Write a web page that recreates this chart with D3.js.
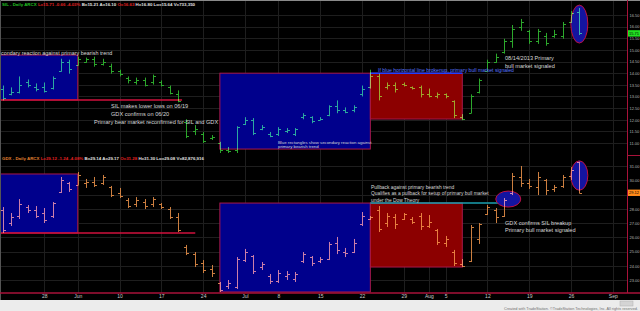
<!DOCTYPE html>
<html>
<head>
<meta charset="utf-8">
<script src="https://cdnjs.cloudflare.com/ajax/libs/d3/7.8.5/d3.min.js"></script>
<style>
body { margin: 0; background: #000; }
svg { display: block; font-family: "Liberation Sans", Arial, sans-serif; }
</style>
</head>
<body>
<div id="chart"></div>
<script>
var svgWidth = 640;
var svgHeight = 311;

// trading days shown (May 20 - Aug 27, 2013)
var dates = ["2013-05-20","2013-05-21","2013-05-22","2013-05-23","2013-05-24","2013-05-28","2013-05-29","2013-05-30","2013-05-31",
  "2013-06-03","2013-06-04","2013-06-05","2013-06-06","2013-06-07","2013-06-10","2013-06-11","2013-06-12","2013-06-13","2013-06-14",
  "2013-06-17","2013-06-18","2013-06-19","2013-06-20","2013-06-21","2013-06-24","2013-06-25","2013-06-26","2013-06-27","2013-06-28",
  "2013-07-01","2013-07-02","2013-07-03","2013-07-05","2013-07-08","2013-07-09","2013-07-10","2013-07-11","2013-07-12",
  "2013-07-15","2013-07-16","2013-07-17","2013-07-18","2013-07-19","2013-07-22","2013-07-23","2013-07-24","2013-07-25","2013-07-26",
  "2013-07-29","2013-07-30","2013-07-31","2013-08-01","2013-08-02","2013-08-05","2013-08-06","2013-08-07","2013-08-08","2013-08-09",
  "2013-08-12","2013-08-13","2013-08-14","2013-08-15","2013-08-16","2013-08-19","2013-08-20","2013-08-21","2013-08-22","2013-08-23",
  "2013-08-26","2013-08-27"];
var futureDates = ["2013-08-28","2013-08-29","2013-08-30","2013-09-03","2013-09-04"];

var silOpen  = [13.30,13.10,13.20,13.60,13.40,13.40,13.35,14.10,14.50,14.35,14.50,14.60,14.40,14.30,14.10,13.80,13.60,13.70,13.60,13.60,
  13.40,13.10,11.90,11.50,11.40,11.20,11.00,10.70,10.70,11.80,12.00,11.60,11.40,11.40,11.50,11.40,12.10,12.10,12.00,12.20,
  12.60,12.40,12.40,13.10,13.40,13.90,13.40,13.50,13.55,13.40,13.40,13.10,13.00,13.10,12.80,12.10,12.30,13.20,14.10,14.50,
  14.90,15.40,16.00,15.80,15.40,15.60,15.60,15.60,16.20,16.63];
var silHigh  = [13.47,13.39,13.86,13.73,13.56,13.60,13.86,14.62,14.58,14.71,14.67,14.71,14.62,14.41,14.15,13.86,13.81,13.81,13.94,13.69,
  13.47,13.26,12.02,11.77,11.47,11.34,11.05,10.83,11.72,12.11,12.07,11.77,11.47,11.68,11.64,11.64,12.28,12.15,12.11,12.62,
  12.83,12.53,12.62,13.47,14.15,13.98,13.60,13.60,13.60,13.43,13.47,13.34,13.17,13.13,12.83,12.24,13.09,13.77,14.58,14.84,
  15.48,16.07,16.33,15.86,15.90,15.73,15.86,16.20,16.67,16.80];
var silLow   = [12.83,13.05,13.13,13.39,13.22,13.17,13.30,14.07,13.98,14.33,14.45,14.28,14.33,13.98,13.86,13.56,13.51,13.43,13.51,13.43,
  13.09,12.75,11.21,11.34,11.00,11.13,10.57,10.57,10.57,11.77,11.34,11.55,11.25,11.30,11.43,11.30,12.02,11.85,11.98,12.15,
  12.28,12.28,12.32,13.00,13.34,12.83,13.30,13.17,13.43,13.30,12.96,12.96,12.92,12.92,12.07,11.98,12.28,13.13,14.07,14.45,
  14.84,15.09,15.82,15.26,15.26,15.18,15.52,15.48,16.16,15.64];
var silClose = [12.95,13.20,13.50,13.50,13.30,13.25,13.80,14.50,14.20,14.60,14.60,14.40,14.50,14.10,13.95,13.70,13.70,13.50,13.90,13.50,
  13.15,12.80,11.30,11.60,11.10,11.25,10.70,10.65,11.70,12.00,11.45,11.70,11.30,11.60,11.55,11.60,12.20,11.95,12.05,12.60,
  12.40,12.35,12.55,13.30,13.90,13.00,13.50,13.30,13.50,13.35,13.10,13.00,13.10,13.00,12.20,12.05,13.00,13.70,14.50,14.70,
  15.40,15.90,16.20,15.40,15.80,15.30,15.70,16.10,16.60,15.71];

var gdxOpen  = [27.90,27.00,27.50,28.10,27.90,27.70,27.50,29.20,29.80,29.70,29.80,29.90,29.80,29.50,29.10,28.60,28.30,28.50,28.30,28.30,
  28.00,27.40,25.30,24.80,24.20,23.80,22.80,22.60,22.50,24.40,24.70,23.90,23.30,22.90,23.30,23.10,24.30,24.60,24.30,24.50,
  25.60,25.00,25.00,26.90,27.30,27.90,27.00,27.40,27.30,27.30,27.50,26.80,26.50,25.60,25.00,24.10,24.30,25.90,27.60,27.90,
  27.50,29.10,30.20,29.80,29.50,30.00,29.40,29.60,30.30,31.28];
var gdxHigh  = [28.12,27.70,28.68,28.26,28.19,28.05,28.47,30.23,29.88,30.58,30.09,30.23,30.37,29.60,29.46,28.75,28.82,28.68,28.82,28.40,
  28.12,27.70,25.46,24.96,24.40,24.05,22.86,23.00,24.61,25.18,24.75,24.26,23.42,23.70,23.63,23.56,24.96,24.68,24.61,25.67,
  26.02,25.25,25.88,27.77,27.49,28.19,27.70,27.63,27.70,27.42,27.70,27.56,26.58,26.09,25.11,24.47,26.86,27.00,28.26,28.05,
  28.75,30.51,31.00,30.09,30.58,30.09,29.67,30.37,30.93,31.30];
var gdxLow   = [26.30,26.79,27.28,27.70,27.35,27.00,27.35,29.11,29.18,29.67,29.46,29.53,29.67,28.82,28.75,28.05,28.12,27.98,28.12,27.98,
  27.28,26.37,24.75,23.91,23.49,23.21,22.16,22.37,22.37,24.26,23.42,23.70,22.72,22.79,23.00,22.86,24.19,23.98,24.19,24.40,
  24.82,24.61,24.89,26.79,27.21,26.37,26.72,26.58,27.21,26.93,26.51,26.65,25.46,25.32,23.98,23.91,24.26,25.53,27.56,27.00,
  27.42,28.96,29.53,29.39,28.96,28.96,29.18,29.46,30.02,29.08];
var gdxClose = [26.50,27.40,28.30,27.90,27.50,27.20,28.40,30.00,29.40,30.40,29.90,29.70,30.20,29.00,28.90,28.20,28.60,28.20,28.70,28.10,
  27.40,26.50,24.90,24.10,23.70,23.50,22.30,22.80,24.50,25.00,23.60,24.10,22.90,23.50,23.40,23.40,24.80,24.20,24.50,25.50,
  25.10,24.90,25.60,27.50,27.40,26.60,27.50,26.90,27.60,27.10,26.80,27.10,25.70,25.90,24.20,24.00,26.70,26.90,28.10,27.40,
  28.60,30.30,29.80,29.60,30.20,29.30,29.50,30.20,30.70,29.12];

var silTicks = [11.0,11.5,12.0,12.5,13.0,13.5,14.0,14.5,15.0,15.5,16.0,16.5];
var gdxTicks = [23,24,25,26,27,28,29,30,31];
var dateTicks = ["2013-05-28","2013-06-03","2013-06-10","2013-06-17","2013-06-24","2013-07-01","2013-07-08","2013-07-15",
  "2013-07-22","2013-07-29","2013-08-01","2013-08-05","2013-08-12","2013-08-19","2013-08-26","2013-09-03"];
var dateLabels = ["28","Jun","10","17","24","Jul","8","15","22","29","Aug","5","12","19","26","Sep"];

var silHeader = [["SIL - Daily ARCX", "#22c022"], [" L=15.71 -0.66 -4.03%", "#e02020"], [" B=15.21 A=16.10", "#e0e0e0"],
  [" O=16.63", "#e02020"], [" H=16.80 Lo=15.64 V=733,350", "#e0e0e0"]];
var gdxHeader = [["GDX - Daily ARCX", "#e08030"], [" L=29.12 -1.24 -4.08%", "#e02020"], [" B=29.14 A=29.17", "#e0e0e0"],
  [" O=31.28", "#e02020"], [" H=31.30 Lo=29.08 V=82,876,916", "#e0e0e0"]];

var plotRight = 627;
var axisColor = "#a8123a";
var gridColor = "#1e1e1e";

var svg = d3.select("#chart").append("svg")
    .attr("width", svgWidth)
    .attr("height", svgHeight);

svg.append("rect").attr("width", svgWidth).attr("height", svgHeight).attr("fill", "#000");

var allDates = dates.concat(futureDates);
var x = d3.scalePoint().domain(allDates).range([2.5, 2.5 + (allDates.length - 1) * 8.36]);

var ySil = d3.scaleLinear().domain([11, 16.5]).range([143, 15]);
var yGdx = d3.scaleLinear().domain([23, 31]).range([280, 166]);

var defs = svg.append("defs");
defs.append("clipPath").attr("id", "clipTop").append("rect").attr("x", 0).attr("y", 0).attr("width", plotRight).attr("height", 155);
defs.append("clipPath").attr("id", "clipBot").append("rect").attr("x", 0).attr("y", 155).attr("width", plotRight).attr("height", 138);

// grid
var grid = svg.append("g");
grid.selectAll(".vg").data(dateTicks).enter().append("line")
    .attr("x1", d => Math.round(x(d)) + 0.5).attr("x2", d => Math.round(x(d)) + 0.5)
    .attr("y1", 0).attr("y2", 293).attr("stroke", gridColor);
grid.selectAll(".hs").data(silTicks).enter().append("line")
    .attr("x1", 0).attr("x2", plotRight).attr("y1", d => Math.round(ySil(d)) + 0.5).attr("y2", d => Math.round(ySil(d)) + 0.5)
    .attr("stroke", gridColor);
grid.selectAll(".hg").data(gdxTicks).enter().append("line")
    .attr("x1", 0).attr("x2", plotRight).attr("y1", d => Math.round(yGdx(d)) + 0.5).attr("y2", d => Math.round(yGdx(d)) + 0.5)
    .attr("stroke", gridColor);

var topPane = svg.append("g").attr("clip-path", "url(#clipTop)");
var botPane = svg.append("g").attr("clip-path", "url(#clipBot)");

var blueFill = "#00008c", redFill = "#8c0000", boxStroke = "#a8184a";

function box(g, y, d0, d1, p0, p1, fill) {
  var x0 = d0 ? x(d0) : 0;
  g.append("rect")
    .attr("x", x0).attr("y", y(p1))
    .attr("width", x(d1) - x0).attr("height", y(p0) - y(p1))
    .attr("fill", fill).attr("stroke", boxStroke).attr("stroke-width", 1);
}

// SIL boxes
box(topPane, ySil, null, "2013-06-03", 12.85, 14.78, blueFill);
box(topPane, ySil, "2013-06-26", "2013-07-23", 10.74, 14.0, blueFill);
box(topPane, ySil, "2013-07-23", "2013-08-07", 12.03, 14.0, redFill);
topPane.append("line").attr("x1", 0).attr("x2", x("2013-06-19") + 4)
    .attr("y1", ySil(12.85)).attr("y2", ySil(12.85)).attr("stroke", "#d0103c").attr("stroke-width", 1.5);
topPane.append("line").attr("x1", x("2013-07-23")).attr("x2", x("2013-08-07"))
    .attr("y1", ySil(14.0)).attr("y2", ySil(14.0)).attr("stroke", "#2040ff").attr("stroke-width", 1.5);
topPane.append("ellipse").attr("cx", x("2013-08-27")).attr("cy", ySil(16.11)).attr("rx", 8.5).attr("ry", 19)
    .attr("fill", "#1414a0").attr("stroke", "#c01040");

// GDX boxes
box(botPane, yGdx, null, "2013-06-03", 26.30, 30.44, blueFill);
box(botPane, yGdx, "2013-06-26", "2013-07-23", 22.16, 28.40, blueFill);
box(botPane, yGdx, "2013-07-23", "2013-08-07", 23.91, 28.40, redFill);
botPane.append("line").attr("x1", 0).attr("x2", x("2013-06-21") + 0.5)
    .attr("y1", yGdx(26.30)).attr("y2", yGdx(26.30)).attr("stroke", "#d0103c").attr("stroke-width", 1.5);
botPane.append("line").attr("x1", x("2013-07-23")).attr("x2", x("2013-08-15"))
    .attr("y1", yGdx(28.40)).attr("y2", yGdx(28.40)).attr("stroke", "#1aa0b0").attr("stroke-width", 1.5);
botPane.append("ellipse").attr("cx", (x("2013-08-14") + x("2013-08-15")) / 2).attr("cy", yGdx(28.68)).attr("rx", 12.5).attr("ry", 8)
    .attr("fill", "#1414a0").attr("stroke", "#c01040");
botPane.append("ellipse").attr("cx", x("2013-08-27")).attr("cy", yGdx(30.33)).attr("rx", 8.5).attr("ry", 14.7)
    .attr("fill", "#1414a0").attr("stroke", "#c01040");

// OHLC bars
function bars(g, y, o, h, l, c, color) {
  g.append("g").style("mix-blend-mode", "screen")
    .selectAll("path").data(dates).enter().append("path")
    .attr("d", function (d, i) {
      var xx = Math.round(x(d)) + 0.5;
      var yo = Math.round(y(o[i])) + 0.5, yc = Math.round(y(c[i])) + 0.5;
      return "M" + xx + "," + y(h[i]) + "V" + y(l[i]) +
             "M" + (xx - 2.5) + "," + yo + "H" + xx +
             "M" + xx + "," + yc + "H" + (xx + 2.5);
    })
    .attr("fill", "none").attr("stroke", color).attr("stroke-width", 1);
}
bars(topPane, ySil, silOpen, silHigh, silLow, silClose, "#2ca82c");
bars(botPane, yGdx, gdxOpen, gdxHigh, gdxLow, gdxClose, "#cc7f40");

// borders
svg.append("line").attr("x1", 0).attr("x2", svgWidth).attr("y1", 0.5).attr("y2", 0.5).attr("stroke", "#8a8a8a");
svg.append("line").attr("x1", 0.5).attr("x2", 0.5).attr("y1", 0).attr("y2", 300).attr("stroke", "#555");
svg.append("line").attr("x1", plotRight + 0.5).attr("x2", plotRight + 0.5).attr("y1", 0).attr("y2", 293).attr("stroke", axisColor);
svg.append("line").attr("x1", plotRight).attr("x2", svgWidth).attr("y1", 155.5).attr("y2", 155.5).attr("stroke", axisColor);
svg.append("line").attr("x1", 0).attr("x2", svgWidth).attr("y1", 293).attr("y2", 293).attr("stroke", axisColor).attr("stroke-width", 1.5);

// right axes (labels hidden where the last-price tag covers them)
var silLast = silClose[silClose.length - 1], gdxLast = gdxClose[gdxClose.length - 1];
function priceAxis(y, ticks, last) {
  var a = svg.append("g").attr("transform", `translate(${plotRight}, 0)`)
    .call(d3.axisRight(y).tickValues(ticks).tickSize(0).tickPadding(2.5)
      .tickFormat(d => Math.abs(y(d) - y(last)) < 4 ? "" : d3.format(".2f")(d)));
  a.select(".domain").remove();
  a.selectAll("text").attr("fill", "#b4b4b4").attr("font-size", 4).attr("font-family", "Liberation Sans, Arial, sans-serif");
}
priceAxis(ySil, silTicks, silLast);
priceAxis(yGdx, gdxTicks, gdxLast);

// last price tags
function tag(y, v, color) {
  var g = svg.append("g");
  g.append("rect").attr("x", plotRight + 1).attr("y", y(v) - 3.2).attr("width", 12).attr("height", 6.4).attr("fill", color);
  g.append("text").attr("x", plotRight + 2).attr("y", y(v) + 1.5).attr("font-size", 4).attr("fill", "#000")
    .text(d3.format(".2f")(v));
}
tag(ySil, silLast, "#22e022");
tag(yGdx, gdxLast, "#ff8a1a");

// date axis
var xAxis = svg.append("g").attr("transform", "translate(0, 293)")
    .call(d3.axisBottom(x).tickValues(dateTicks).tickSize(0).tickPadding(1.5).tickFormat((d, i) => dateLabels[i]));
xAxis.select(".domain").remove();
xAxis.selectAll("text").attr("fill", "#c8c8c8").attr("font-size", 5).attr("font-family", "Liberation Sans, Arial, sans-serif");

// headers
function header(y, parts) {
  var t = svg.append("text").attr("x", 2).attr("y", y).attr("font-size", 4.4).attr("font-weight", "bold");
  parts.forEach(function (p) { t.append("tspan").attr("fill", p[1]).text(p[0]); });
}
header(6, silHeader);
header(160, gdxHeader);

// annotations
function note(xp, yp, txt, size, color) {
  svg.append("text").attr("x", xp).attr("y", yp).attr("font-size", size).attr("fill", color || "#d8d8d8").text(txt);
}
note(1, 54.5, "condary reaction against primary bearish trend", 5.4);
note(111, 108, "SIL makes lower lows on 06/19", 5.6);
note(111, 116, "GDX confirms on 06/20", 5.6);
note(94, 124, "Primary bear market reconfirmed for SIL and GDX", 5.6);
note(278, 143.5, "Blue rectangles show secondary reaction against", 4.3);
note(278, 148.2, "primary bearish trend", 4.3);
note(378, 72, "If blue horizontal line brokenup, primary bull market signaled", 5.1, "#5a78ff");
note(505, 59.5, "08/14/2013 Primary", 5.6);
note(505, 67.5, "bull market signaled", 5.6);
note(371, 188.5, "Pullback against primary bearish trend", 4.9);
note(371, 195, "Qualifies as a pullback for setup of primary bull market", 4.9);
note(371, 201.5, "under the Dow Theory", 4.9);
note(505, 224.5, "GDX confirms SIL breakup", 5.6);
note(505, 232, "Primary bull market signaled", 5.6);

// bottom band
svg.append("rect").attr("x", 0).attr("y", 300).attr("width", svgWidth).attr("height", 11).attr("fill", "#ececec");
svg.append("rect").attr("x", 620).attr("y", 301).attr("width", 13).attr("height", 5).attr("fill", "#d4d4d4").attr("stroke", "#b0b0b0").attr("stroke-width", 0.5);
svg.append("text").attr("x", 638).attr("y", 309.5).attr("text-anchor", "end").attr("font-size", 3.8).attr("fill", "#707070")
    .text("Created with TradeStation. \u00a9TradeStation Technologies, Inc. All rights reserved.");
</script>
</body>
</html>
